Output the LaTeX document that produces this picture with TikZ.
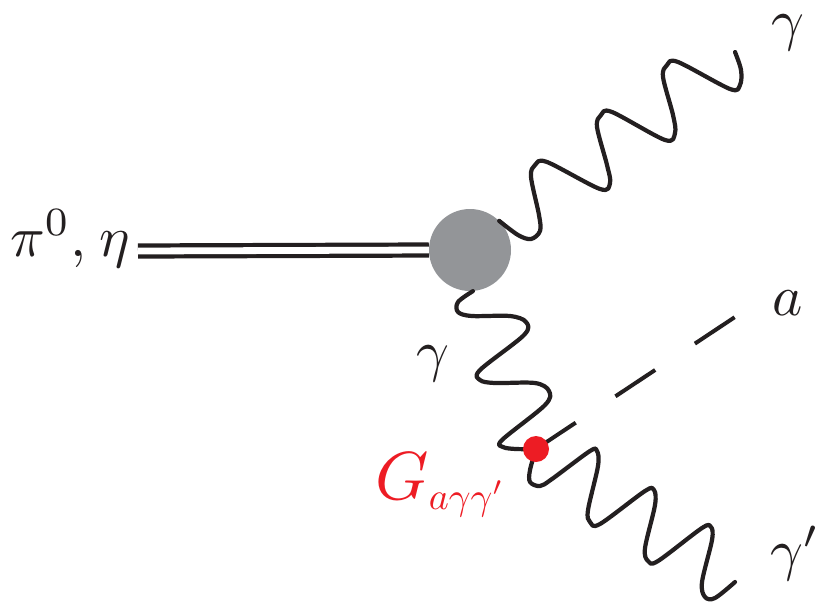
\documentclass[tikz,border=0pt]{standalone}
\usepackage{amsmath,amssymb,graphicx}
\usepackage{tikz}
\usetikzlibrary{calc,positioning}
\definecolor{cblob}{RGB}{147,149,152}
\definecolor{cred}{RGB}{237,28,36}
\definecolor{cline}{RGB}{35,31,32}
\tikzset{
  blob/.style={circle,fill=cblob,draw=none,minimum size=82*0.03cm,inner sep=0pt},
  vertexdot/.style={circle,fill=cred,draw=none,minimum size=26*0.03cm,inner sep=0pt},
  lab/.style={scale=4.9,inner sep=0pt,text=cline},
  wave/.style={line width=3.6pt,color=cline,line cap=round,line join=round},
  mesonline/.style={line width=3.6pt,color=cline,double=white,double distance=5.8pt},
  axion/.style={line width=3.4pt,color=cline,dash pattern=on 1.43cm off 1.43cm}
}
\begin{document}
\begin{tikzpicture}[x=0.03cm,y=-0.03cm]
  \useasboundingbox (0,0) rectangle (817,603);
  \node[lab] (pilab) at (70,239) {$\pi^0,\mskip1mu\eta$};
  \node[lab] (gammatop) at (788,33) {$\gamma$};
  \node[lab] (alab) at (788,303) {$a$};
  \node[lab] (gammaprime) at (795,553) {$\gamma'$};
  \node[lab] (gammamid) at (433,364) {$\gamma$};
  \node[scale=5.8,inner sep=0pt,text=cred] (glab) at (441,485) {$G_{\scalebox{0.56}{$a\gamma\gamma'$}}$};
  \coordinate (endtop) at (735,52);
  \coordinate (enda) at (735,317);
  \coordinate (endprime) at (735,582);
  \coordinate (mesonstart) at (138,251);
  \coordinate (vertexc) at (536,449);
  % gray blob and the lines that leave it
  \node[blob] (hadron) at (470,250) {};
  \draw[mesonline] (mesonstart) -- (hadron.west);
  \draw[wave] plot[smooth,tension=0.55] coordinates {(hadron.45) (518,235) (531,239) (540,231) (539,215)
    (531,177) (535,165) (547,162) (600,189) (610,183) (607,165) (597,127) (601,115) (612,112)
    (665,140) (675,133) (673,115) (663,77) (667,65) (678,62) (730,89) (740,85) (741,70) (endtop)};
  \draw[wave] plot[smooth,tension=0.55] coordinates {(hadron.-86) (458,302) (458,312) (472,316)
    (510,316) (526,322) (524,335) (480,370) (480,380) (495,383)
    (535,383) (549,391) (545,405) (502,440) (503,447) (516,449) (vertexc)};
  \draw[axion] (vertexc) -- (enda);
  \draw[wave] plot[smooth,tension=0.55] coordinates {(vertexc) (530,470) (530,482) (540,486) (552,479)
    (590,451) (597,451) (598,466) (588,510) (590,522) (600,524) (645,491) (654,490) (655,505) (645,548)
    (648,561) (658,561) (702,528) (711,527) (712,540) (702,582) (705,597) (715,598) (endprime)};
  \node[vertexdot] (vertex) at (vertexc) {};
\end{tikzpicture}
\end{document}
